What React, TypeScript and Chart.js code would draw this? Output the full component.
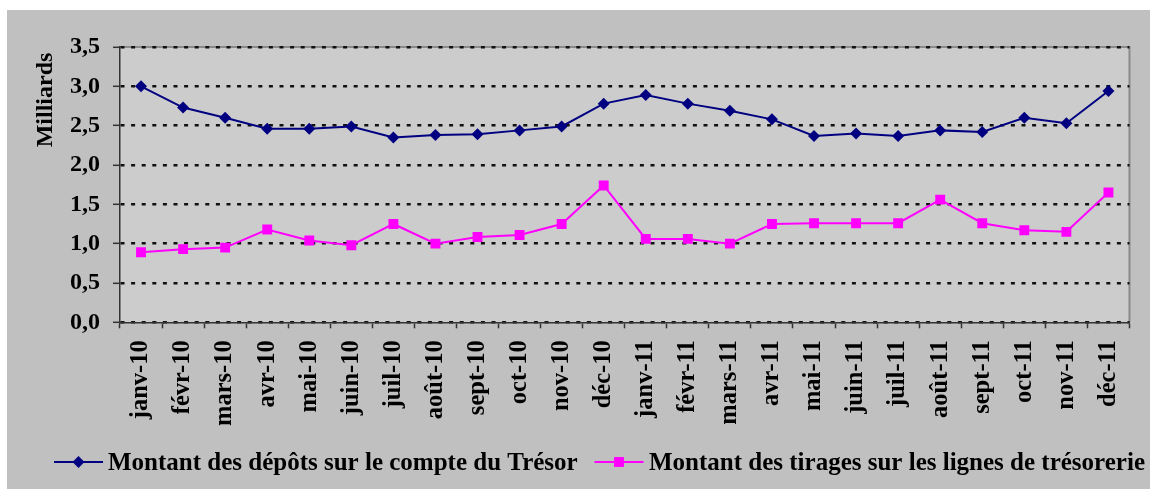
import React, { useEffect, useRef } from 'react';
import { Chart, registerables } from 'chart.js';

Chart.register(...registerables);

const categories = [
  'janv-10', 'févr-10', 'mars-10', 'avr-10', 'mai-10', 'juin-10', 'juil-10', 'août-10',
  'sept-10', 'oct-10', 'nov-10', 'déc-10', 'janv-11', 'févr-11', 'mars-11', 'avr-11',
  'mai-11', 'juin-11', 'juil-11', 'août-11', 'sept-11', 'oct-11', 'nov-11', 'déc-11',
];

const depots = [
  3.0, 2.73, 2.6, 2.46, 2.46, 2.49, 2.35, 2.38, 2.39, 2.44, 2.49, 2.78,
  2.89, 2.78, 2.69, 2.58, 2.37, 2.4, 2.37, 2.44, 2.42, 2.6, 2.53, 2.94,
];

const tirages = [
  0.89, 0.93, 0.95, 1.18, 1.04, 0.98, 1.25, 1.0, 1.085, 1.11, 1.25, 1.74,
  1.06, 1.06, 1.0, 1.25, 1.26, 1.26, 1.26, 1.56, 1.26, 1.17, 1.15, 1.65,
];

const yTickLabels = ['0,0', '0,5', '1,0', '1,5', '2,0', '2,5', '3,0', '3,5'];

const seriesNames = [
  'Montant des dépôts sur le compte du Trésor',
  'Montant des tirages sur les lignes de trésorerie',
];

const yTitle = 'Milliards';

const FONT = "'Liberation Serif', 'Times New Roman', serif";
const NAVY = '#000080';
const MAGENTA = '#ff00ff';

export default function App() {
  const ref = useRef<HTMLCanvasElement>(null);

  useEffect(() => {
    const canvas = ref.current;
    if (!canvas) return;

    const bgPlugin = {
      id: 'plotBg',
      beforeDraw(chart: any) {
        const { ctx, chartArea: a } = chart;
        ctx.save();
        ctx.fillStyle = '#cccccc';
        ctx.fillRect(a.left, a.top, a.right - a.left, a.bottom - a.top);
        ctx.strokeStyle = '#8a8a8a';
        ctx.lineWidth = 2;
        ctx.beginPath();
        ctx.moveTo(a.left, a.top);
        ctx.lineTo(a.right, a.top);
        ctx.lineTo(a.right, a.bottom);
        ctx.stroke();
        ctx.restore();
      },
    };

    const legendPlugin = {
      id: 'customLegend',
      afterDraw(chart: any) {
        const ctx = chart.ctx;
        // y axis title
        ctx.save();
        ctx.font = `bold 24px ${FONT}`;
        ctx.fillStyle = '#000';
        ctx.textAlign = 'center';
        ctx.textBaseline = 'alphabetic';
        ctx.translate(45.3, 90);
        ctx.rotate(-Math.PI / 2);
        ctx.fillText(yTitle, 0, 0);
        ctx.restore();

        const slots = [
          { x0: 47, x1: 96, tx: 101 },
          { x0: 587.5, x1: 636.5, tx: 642 },
        ];
        const lineY = 452;
        const baseY = 460;
        chart.data.datasets.forEach((ds: any, i: number) => {
          const s = slots[i];
          if (!s) return;
          ctx.save();
          ctx.strokeStyle = ds.borderColor;
          ctx.lineWidth = 2;
          ctx.beginPath();
          ctx.moveTo(s.x0, lineY);
          ctx.lineTo(s.x1, lineY);
          ctx.stroke();
          const cx = (s.x0 + s.x1) / 2;
          ctx.fillStyle = ds.pointBackgroundColor;
          ctx.beginPath();
          if (ds.pointStyle === 'rectRot') {
            const r = ds.pointRadius;
            ctx.moveTo(cx, lineY - r);
            ctx.lineTo(cx + r, lineY);
            ctx.lineTo(cx, lineY + r);
            ctx.lineTo(cx - r, lineY);
            ctx.closePath();
          } else {
            const h = ds.pointRadius * Math.SQRT1_2;
            ctx.rect(cx - h, lineY - h, 2 * h, 2 * h);
          }
          ctx.fill();
          ctx.font = `bold 25px ${FONT}`;
          ctx.fillStyle = '#000';
          ctx.textAlign = 'left';
          ctx.textBaseline = 'alphabetic';
          ctx.fillText(ds.label, s.tx, baseY);
          ctx.restore();
        });
      },
    };

    const chart = new Chart(canvas, {
      type: 'line',
      data: {
        labels: categories,
        datasets: [
          {
            label: seriesNames[0],
            data: depots,
            borderColor: NAVY,
            backgroundColor: NAVY,
            pointBackgroundColor: NAVY,
            pointBorderColor: NAVY,
            pointStyle: 'rectRot',
            pointRadius: 6,
            pointBorderWidth: 0,
            borderWidth: 2,
            tension: 0,
            fill: false,
          },
          {
            label: seriesNames[1],
            data: tirages,
            borderColor: MAGENTA,
            backgroundColor: MAGENTA,
            pointBackgroundColor: MAGENTA,
            pointBorderColor: MAGENTA,
            pointStyle: 'rect',
            pointRadius: 7,
            pointBorderWidth: 0,
            borderWidth: 2,
            tension: 0,
            fill: false,
          },
        ],
      },
      options: {
        responsive: false,
        animation: false,
        events: [],
        layout: { padding: { top: 37, left: 0, right: 7.5, bottom: 46.7 } },
        plugins: {
          legend: { display: false },
          tooltip: { enabled: false },
          title: { display: false },
        },
        scales: {
          x: {
            type: 'category',
            offset: true,
            grid: {
              display: true,
              offset: true,
              drawOnChartArea: false,
              drawTicks: true,
              tickLength: 6,
              tickColor: '#333',
              tickWidth: 1.5,
            },
            border: { display: true, color: '#333', width: 1.5 },
            ticks: {
              autoSkip: false,
              minRotation: 90,
              maxRotation: 90,
              padding: 12,
              color: '#000',
              font: { family: FONT, size: 24.5, weight: 'bold' },
            },
            afterFit(scale: any) {
              scale.height = 120;
            },
          },
          y: {
            min: 0,
            max: 3.5,
            ticks: {
              stepSize: 0.5,
              padding: 13,
              color: '#000',
              font: { family: FONT, size: 24, weight: 'bold' },
              callback: (_v: any, i: number) => yTickLabels[i],
            },
            grid: {
              color: '#111',
              lineWidth: 2.6,
              drawTicks: true,
              tickLength: 7,
              tickColor: '#333',
              tickWidth: 1.5,
              tickBorderDash: [],
            },
            border: { display: true, color: '#333', width: 1.5, dash: [4, 6.6] },
            afterFit(scale: any) {
              scale.width = 113;
            },
          },
        },
      },
      plugins: [bgPlugin, legendPlugin],
    });

    return () => chart.destroy();
  }, []);

  return (
    <div
      style={{
        position: 'absolute',
        left: 7,
        top: 10,
        width: 1143,
        height: 479,
        background: '#c0c0c0',
        overflow: 'hidden',
      }}
    >
      <canvas ref={ref} width={1143} height={479} style={{ display: 'block', width: 1143, height: 479 }} />
    </div>
  );
}
